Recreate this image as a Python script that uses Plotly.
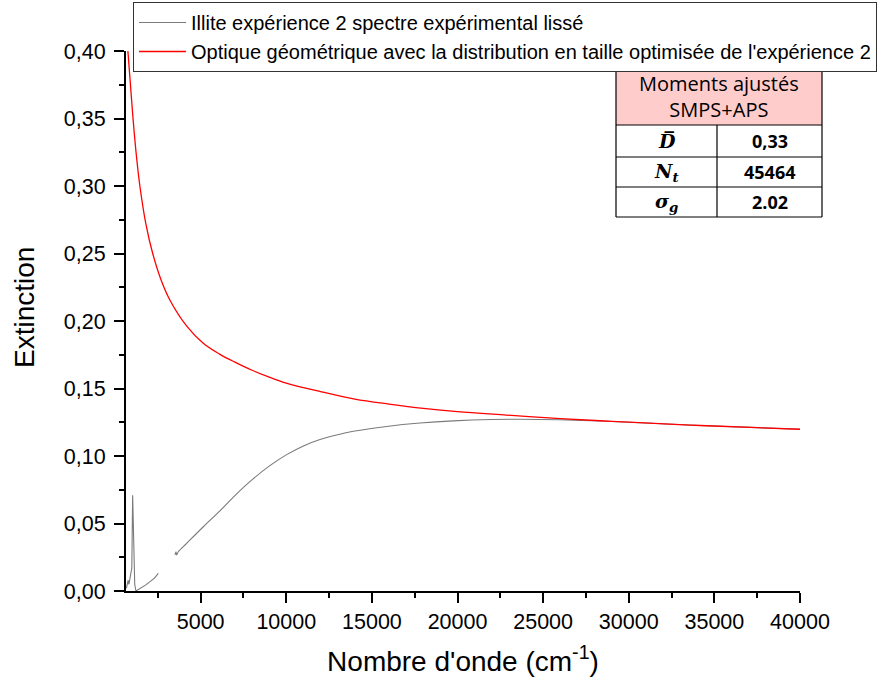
import plotly.graph_objects as go

# ---------------- data ----------------
series_names = [
    "Illite expérience 2 spectre expérimental lissé",
    "Optique géométrique avec la distribution en taille optimisée de l'expérience 2",
]

# experimental (smoothed) spectrum: noisy low-wavenumber part
exp_low_wavenumber = [640, 680, 730, 773, 800, 830, 880, 930, 980, 1028, 1080, 1150, 1220,
                      1500, 1800, 2100, 2300, 2525]
exp_low_extinction = [0.002, 0.003, 0.006, 0.008, 0.005, 0.006, 0.010, 0.0156, 0.017, 0.071,
                      0.035, 0.005, 0.0,
                      0.002, 0.0045, 0.0075, 0.0095, 0.0131]

# experimental spectrum: smooth high-wavenumber part
exp_high_wavenumber = [3500, 3557, 3597, 3694, 4182, 5156, 6128, 7000, 8075, 9000, 10024,
                       11000, 11969, 13000, 13914, 15864, 17810, 19755, 22000, 23650, 26000,
                       28330, 30000, 34170, 40000]
exp_high_extinction = [0.0267, 0.0291, 0.0267, 0.0291, 0.0353, 0.0476, 0.0594, 0.0707, 0.0832,
                       0.0925, 0.1010, 0.1075, 0.1122, 0.1158, 0.1183, 0.1219, 0.1244, 0.1260,
                       0.1270, 0.1272, 0.1268, 0.1259, 0.1250, 0.1226, 0.1198]

# geometric optics model
model_wavenumber = [750, 900, 1050, 1250, 1450, 1800, 2200, 2700, 3200, 4200, 5150, 6100,
                    7000, 8000, 9000, 10000, 12000, 14000, 16000, 18000, 20000, 22850, 26000,
                    28330, 30000, 34170, 40000]
model_extinction = [0.400, 0.375, 0.350, 0.322, 0.300, 0.272, 0.250, 0.230, 0.2156, 0.196,
                    0.1835, 0.1755, 0.1695, 0.1635, 0.1585, 0.1540, 0.1477, 0.1422, 0.1385,
                    0.1353, 0.1328, 0.1303, 0.1277, 0.1261, 0.1251, 0.1226, 0.1198]

# inset table
table_title = "Moments ajustés<br>SMPS+APS"
table_labels = ["<b><i>D\u0305</i></b>", "<b><i>N<sub>t</sub></i></b>", "<b><i>σ<sub>g</sub></i></b>"]
table_values = ["<b>0,33</b>", "<b>45464</b>", "<b>2.02</b>"]

x_title = "Nombre d'onde (cm<sup>-1</sup>)"
y_title = "Extinction"

# ---------------- figure ----------------
gray = "#7a7a7a"
fig = go.Figure()
fig.add_trace(go.Scatter(x=exp_low_wavenumber, y=exp_low_extinction, mode="lines",
                         name=series_names[0], legendgroup="exp",
                         line=dict(color=gray, width=1.1)))
fig.add_trace(go.Scatter(x=exp_high_wavenumber, y=exp_high_extinction, mode="lines",
                         name=series_names[0], legendgroup="exp", showlegend=False,
                         line_shape="spline",
                         line=dict(color=gray, width=1.1)))
fig.add_trace(go.Scatter(x=model_wavenumber, y=model_extinction, mode="lines",
                         name=series_names[1], line_shape="spline",
                         line=dict(color="#ff0000", width=1.3)))

W, H = 889, 686
L, R, T, B = 126, 800, 51, 591
pw, ph = R - L, B - T


def px(xp):
    return (xp - L) / pw


def py(yp):
    return (B - yp) / ph


FONT = "Liberation Sans, Arial"
axis_font = dict(family=FONT, size=21.5, color="black")
fig.update_layout(
    width=W, height=H,
    margin=dict(l=L, r=W - R, t=T, b=H - B, pad=0, autoexpand=False),
    paper_bgcolor="white", plot_bgcolor="white",
    separators=",.",
    font=dict(family=FONT, color="black"),
    showlegend=True,
    legend=dict(xref="container", yref="container", x=133 / W, y=1 - 2 / H,
                xanchor="left", yanchor="top",
                bordercolor="#333333", borderwidth=1, bgcolor="white",
                font=dict(family=FONT, size=20, color="black"),
                itemwidth=47, tracegroupgap=0),
    xaxis=dict(range=[640, 40000], showgrid=False, zeroline=False,
               showline=True, linecolor="black", linewidth=1.5,
               ticks="outside", ticklen=10, tickwidth=1.5, tickcolor="black",
               tick0=0, dtick=5000, tickformat="d", tickfont=axis_font,
               minor=dict(dtick=2500, ticklen=5, tickwidth=1.5, tickcolor="black", ticks="outside"),
               title=dict(text=x_title, font=dict(family=FONT, size=28), standoff=19)),
    yaxis=dict(range=[0, 0.40], showgrid=False, zeroline=False,
               showline=True, linecolor="black", linewidth=1.5,
               ticks="outside", ticklen=10, tickwidth=1.5, tickcolor="black",
               tick0=0, dtick=0.05, tickformat=".2f", tickfont=axis_font,
               ticksuffix="\u2009",
               minor=dict(dtick=0.025, ticklen=5, tickwidth=1.5, tickcolor="black", ticks="outside")),
)

# inset table geometry (pixels -> paper)
tx0, tx1, tdiv = 616, 822, 717
ty = [69, 125, 157, 187, 217]
shapes = []
shapes.append(dict(type="rect", xref="paper", yref="paper",
                   x0=px(tx0), x1=px(tx1), y0=py(ty[1]), y1=py(ty[0]),
                   fillcolor="#ffcccc", line=dict(width=0), layer="above"))
shapes.append(dict(type="rect", xref="paper", yref="paper",
                   x0=px(tx0), x1=px(tx1), y0=py(ty[4]), y1=py(ty[1]),
                   fillcolor="white", line=dict(width=0), layer="above"))
for yy in ty:
    shapes.append(dict(type="line", xref="paper", yref="paper",
                       x0=px(tx0), x1=px(tx1), y0=py(yy), y1=py(yy),
                       line=dict(color="black", width=1.2), layer="above"))
for xx in (tx0, tx1):
    shapes.append(dict(type="line", xref="paper", yref="paper",
                       x0=px(xx), x1=px(xx), y0=py(ty[4]), y1=py(ty[0]),
                       line=dict(color="black", width=1.2), layer="above"))
shapes.append(dict(type="line", xref="paper", yref="paper",
                   x0=px(tdiv), x1=px(tdiv), y0=py(ty[4]), y1=py(ty[1]),
                   line=dict(color="black", width=1.2), layer="above"))
fig.update_layout(shapes=shapes)

ann = []
# y-axis title
ann.append(dict(xref="paper", yref="paper", x=px(24), y=py(308), text=y_title,
                textangle=-90, showarrow=False, xanchor="center", yanchor="middle",
                font=dict(family=FONT, size=28, color="black")))
ann.append(dict(xref="paper", yref="paper", x=px((tx0 + tx1) / 2), y=py((ty[0] + ty[1]) / 2),
                text=table_title, showarrow=False, xanchor="center", yanchor="middle",
                font=dict(family="Open Sans, Lato", size=20, color="black")))
for i in range(3):
    yc = py((ty[i + 1] + ty[i + 2]) / 2)
    ann.append(dict(xref="paper", yref="paper", x=px((tx0 + tdiv) / 2), y=yc,
                    text=table_labels[i], showarrow=False, xanchor="center", yanchor="middle",
                    font=dict(family="DejaVu Serif", size=19, color="black")))
    ann.append(dict(xref="paper", yref="paper", x=px((tdiv + tx1) / 2), y=yc,
                    text=table_values[i], showarrow=False, xanchor="center", yanchor="middle",
                    font=dict(family="Open Sans, Lato", size=18, color="black")))
fig.update_layout(annotations=ann)

fig.write_html("out.html", config={"displayModeBar": False},
               post_script="document.body.style.margin='0';")
